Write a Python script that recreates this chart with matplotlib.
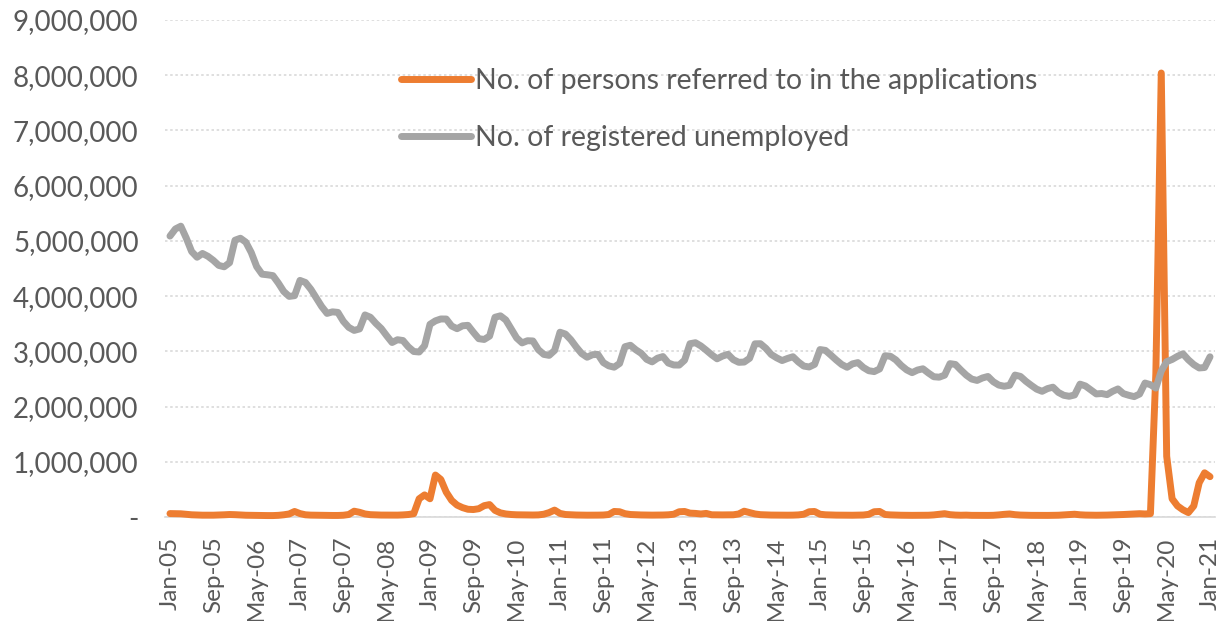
import matplotlib
matplotlib.use("Agg")
import matplotlib.pyplot as plt
from matplotlib.ticker import FuncFormatter, FixedLocator
import numpy as np
import pandas as pd

plt.rcParams['font.family'] = ['Lato', 'DejaVu Sans']

# Monthly series, Jan 2005 - Jan 2021
months = pd.date_range("2005-01-01", "2021-01-01", freq="MS")

# Persons referred to in short-time work applications (thousands)
applications_k = [
    62, 60, 58, 48, 40, 36, 33, 32, 33, 36, 40, 45,          # 2005
    42, 36, 32, 30, 28, 27, 26, 26, 30, 40, 55, 100,         # 2006
    62, 40, 34, 32, 30, 30, 28, 28, 32, 45, 105, 85,         # 2007
    55, 42, 38, 35, 34, 34, 34, 38, 45, 60, 330, 400,        # 2008
    330, 760, 680, 450, 300, 215, 170, 140, 135, 150, 205, 225,  # 2009
    120, 75, 55, 45, 40, 38, 36, 36, 38, 50, 80, 125,        # 2010
    65, 45, 40, 36, 34, 33, 33, 34, 36, 45, 100, 95,         # 2011
    60, 45, 40, 37, 35, 34, 34, 36, 40, 50, 95, 100,         # 2012
    70, 65, 55, 65, 40, 38, 38, 38, 40, 55, 105, 80,         # 2013
    55, 42, 38, 35, 34, 33, 33, 34, 38, 50, 95, 100,         # 2014
    50, 40, 36, 34, 33, 32, 32, 33, 36, 48, 95, 100,         # 2015
    45, 38, 34, 32, 30, 30, 30, 30, 32, 38, 50, 60,          # 2016
    42, 35, 32, 34, 30, 29, 29, 29, 31, 38, 48, 55,          # 2017
    42, 35, 32, 30, 29, 29, 29, 30, 32, 38, 45, 50,          # 2018
    40, 35, 33, 32, 33, 35, 38, 42, 45, 50, 55, 60,          # 2019
    55, 60, 2600, 8040, 1100, 330, 200, 130, 80, 200, 620, 800,  # 2020
    730,                                                     # 2021
]

# Registered unemployed (millions)
unemployed_m = [
    5.087, 5.216, 5.266, 5.052, 4.807, 4.704, 4.772, 4.721, 4.647, 4.556, 4.531, 4.605,  # 2005
    5.012, 5.048, 4.977, 4.790, 4.535, 4.397, 4.386, 4.371, 4.237, 4.084, 3.995, 4.008,  # 2006
    4.284, 4.247, 4.124, 3.967, 3.812, 3.687, 3.715, 3.705, 3.544, 3.434, 3.379, 3.406,  # 2007
    3.659, 3.617, 3.507, 3.413, 3.283, 3.160, 3.210, 3.196, 3.081, 2.997, 2.988, 3.102,  # 2008
    3.489, 3.552, 3.586, 3.585, 3.458, 3.410, 3.462, 3.471, 3.346, 3.229, 3.215, 3.276,  # 2009
    3.617, 3.643, 3.568, 3.406, 3.242, 3.153, 3.192, 3.188, 3.031, 2.945, 2.927, 3.016,  # 2010
    3.346, 3.313, 3.210, 3.078, 2.960, 2.893, 2.939, 2.945, 2.796, 2.737, 2.713, 2.780,  # 2011
    3.084, 3.110, 3.028, 2.963, 2.855, 2.809, 2.876, 2.905, 2.788, 2.753, 2.751, 2.840,  # 2012
    3.138, 3.156, 3.098, 3.020, 2.937, 2.865, 2.914, 2.946, 2.849, 2.801, 2.806, 2.874,  # 2013
    3.136, 3.138, 3.055, 2.943, 2.882, 2.833, 2.871, 2.902, 2.808, 2.733, 2.717, 2.764,  # 2014
    3.032, 3.017, 2.932, 2.843, 2.762, 2.711, 2.773, 2.796, 2.708, 2.649, 2.633, 2.681,  # 2015
    2.920, 2.911, 2.845, 2.744, 2.664, 2.614, 2.661, 2.684, 2.608, 2.540, 2.532, 2.568,  # 2016
    2.777, 2.762, 2.662, 2.569, 2.498, 2.473, 2.518, 2.545, 2.449, 2.389, 2.368, 2.385,  # 2017
    2.570, 2.546, 2.458, 2.384, 2.315, 2.276, 2.325, 2.351, 2.256, 2.204, 2.186, 2.210,  # 2018
    2.406, 2.373, 2.301, 2.229, 2.236, 2.216, 2.275, 2.319, 2.234, 2.204, 2.180, 2.227,  # 2019
    2.426, 2.396, 2.335, 2.644, 2.813, 2.853, 2.910, 2.955, 2.847, 2.760, 2.699, 2.707,  # 2020
    2.901,                                                                               # 2021
]

series_labels = ["No. of persons referred to in the applications",
                 "No. of registered unemployed"]
series_colors = ["#ED7D31", "#A5A5A5"]
y_ticks = [0, 1_000_000, 2_000_000, 3_000_000, 4_000_000,
           5_000_000, 6_000_000, 7_000_000, 8_000_000, 9_000_000]

applications = np.array(applications_k) * 1_000
unemployed = np.array(unemployed_m) * 1_000_000
x = np.arange(len(months))

tick_idx = list(range(0, len(months), 8))
tick_labels = [months[i].strftime("%b-%y") for i in tick_idx]

W, H, DPI = 1217, 621, 100
fig = plt.figure(figsize=(W / DPI, H / DPI), dpi=DPI)
ax = fig.add_axes([165 / W, 1 - 517 / H, 1050 / W, (517 - 20) / H])

text_color = "#595959"
lw = 5.0
ax.plot(x, applications, color=series_colors[0], lw=lw, solid_capstyle="round",
        solid_joinstyle="round", label=series_labels[0], zorder=3, clip_on=False)
ax.plot(x, unemployed, color=series_colors[1], lw=lw, solid_capstyle="round",
        solid_joinstyle="round", label=series_labels[1], zorder=4, clip_on=False)

ax.set_ylim(0, 9_000_000)
ax.set_xlim(-0.92, len(months) - 1 + 0.92)
ax.yaxis.set_major_locator(FixedLocator(y_ticks))
ax.yaxis.set_major_formatter(FuncFormatter(lambda v, p: "-" if v == 0 else f"{v:,.0f}"))
ax.set_xticks(tick_idx)
ax.set_xticklabels(tick_labels, rotation=90)

ax.grid(axis="y", color="#D9D9D9", linestyle=(0, (1.5, 1.6)), linewidth=1.2, zorder=0)
ax.set_axisbelow(True)
for side in ["top", "right", "left"]:
    ax.spines[side].set_visible(False)
ax.spines["bottom"].set_color("#D9D9D9")
ax.spines["bottom"].set_linewidth(1.2)
ax.spines["bottom"].set_zorder(1)

ax.tick_params(axis="both", length=0, labelcolor=text_color)
ax.tick_params(axis="y", pad=19, labelsize=20)
ax.tick_params(axis="x", pad=14, labelsize=17.5)

leg = ax.legend(loc="upper left", bbox_to_anchor=(401 / W, 1 - 68 / H),
                bbox_transform=fig.transFigure, frameon=False, fontsize=20.5,
                handlelength=2.45, handletextpad=0.15, labelspacing=1.1,
                borderaxespad=0, borderpad=0)
for t in leg.get_texts():
    t.set_color(text_color)

fig.savefig("out.png", dpi=DPI)
